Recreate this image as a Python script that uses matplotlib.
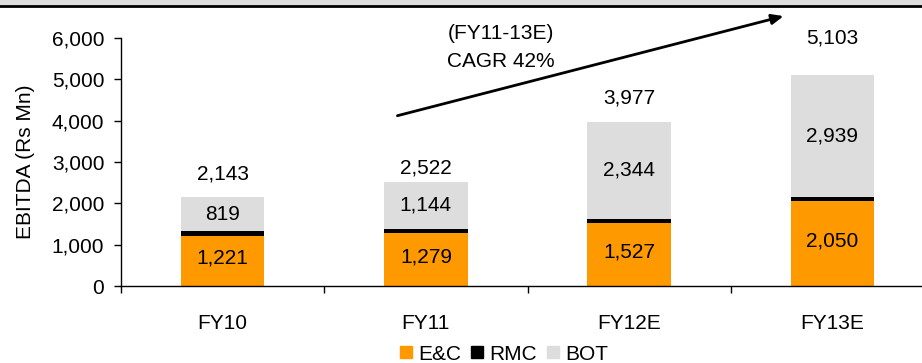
import matplotlib
matplotlib.use("Agg")
import matplotlib.pyplot as plt
from matplotlib.patches import Rectangle, Patch
from matplotlib.lines import Line2D

plt.rcParams['font.family'] = ['Liberation Sans', 'DejaVu Sans']

# EBITDA by segment (Rs Mn)
years = ["FY10", "FY11", "FY12E", "FY13E"]
ec = [1221, 1279, 1527, 2050]
rmc = [103, 99, 106, 114]
bot = [819, 1144, 2344, 2939]
totals = [2143, 2522, 3977, 5103]
yticks = [0, 1000, 2000, 3000, 4000, 5000, 6000]

ORANGE = "#FF9900"
GREY = "#DDDDDD"
BLACK = "#000000"
FS = 15

fig = plt.figure(figsize=(9.22, 3.63), dpi=100)
ax = fig.add_axes([121 / 922, 1 - 286 / 363, (934 - 121) / 922, (286 - 38) / 363])

x = list(range(len(years)))
w = 0.41
ax.bar(x, ec, w, color=ORANGE, label="E&C", zorder=2)
base2 = [a for a in ec]
ax.bar(x, rmc, w, bottom=base2, color=BLACK, label="RMC", zorder=2)
base3 = [a + b for a, b in zip(ec, rmc)]
ax.bar(x, bot, w, bottom=base3, color=GREY, label="BOT", zorder=2)

# segment labels
for i in x:
    ax.text(i, ec[i] / 2 + 60, f"{ec[i]:,}", ha="center", va="center", fontsize=FS)
    ax.text(i, base3[i] + bot[i] / 2, f"{bot[i]:,}", ha="center", va="center", fontsize=FS)

# total labels above bars
total_offsets = [17, 10, 17, 27]  # points above bar top
for i in x:
    ax.annotate(f"{totals[i]:,}", (i, totals[i]), xytext=(0, total_offsets[i]),
                textcoords="offset points", ha="center", va="center", fontsize=FS)

# growth arrow with CAGR note
ax.annotate("", xy=(2.76, 6530), xytext=(0.86, 4120), xycoords="data",
            annotation_clip=False,
            arrowprops=dict(arrowstyle="-|>,head_length=0.7,head_width=0.3",
                            color="black", lw=2.0, shrinkA=0, shrinkB=0))
ax.text(1.37, 6120, "(FY11-13E)", ha="center", va="center", fontsize=FS, clip_on=False)
ax.text(1.37, 5420, "CAGR 42%", ha="center", va="center", fontsize=FS, clip_on=False)

ax.set_xlim(-0.5, len(years) - 0.5)
ax.set_ylim(0, 6000)
ax.set_yticks(yticks)
ax.set_yticklabels([f"{v:,}" for v in yticks], fontsize=FS)
ax.set_xticks(x)
ax.set_xticklabels(years, fontsize=FS)
ax.set_xticks([i + 0.5 for i in range(-1, len(years))], minor=True)
ax.tick_params(axis="x", which="major", length=0, pad=20)
ax.tick_params(axis="x", which="minor", length=5, width=1, direction="out")
ax.tick_params(axis="y", length=5, width=1, direction="out", pad=7)
for s in ["top", "right"]:
    ax.spines[s].set_visible(False)
for s in ["left", "bottom"]:
    ax.spines[s].set_linewidth(1)
ax.set_ylabel("EBITDA (Rs Mn)", fontsize=FS, labelpad=12)

# header band
fig.patches.append(Rectangle((0, 1 - 4.5 / 363), 1, 4.5 / 363, transform=fig.transFigure,
                             color=GREY, zorder=0))
fig.lines.append(Line2D([0, 1], [1 - 5.5 / 363, 1 - 5.5 / 363], transform=fig.transFigure,
                        color="black", lw=2))

handles = [Patch(color=ORANGE, label="E&C"), Patch(color=BLACK, label="RMC"),
           Patch(color=GREY, label="BOT")]
fig.legend(handles=handles, loc="center", bbox_to_anchor=(504 / 922, 1 - 354 / 363),
           ncol=3, frameon=False, fontsize=FS, handlelength=0.55, handleheight=0.55,
           handletextpad=0.3, columnspacing=0.5, borderpad=0)

fig.savefig("out.png", dpi=100)
